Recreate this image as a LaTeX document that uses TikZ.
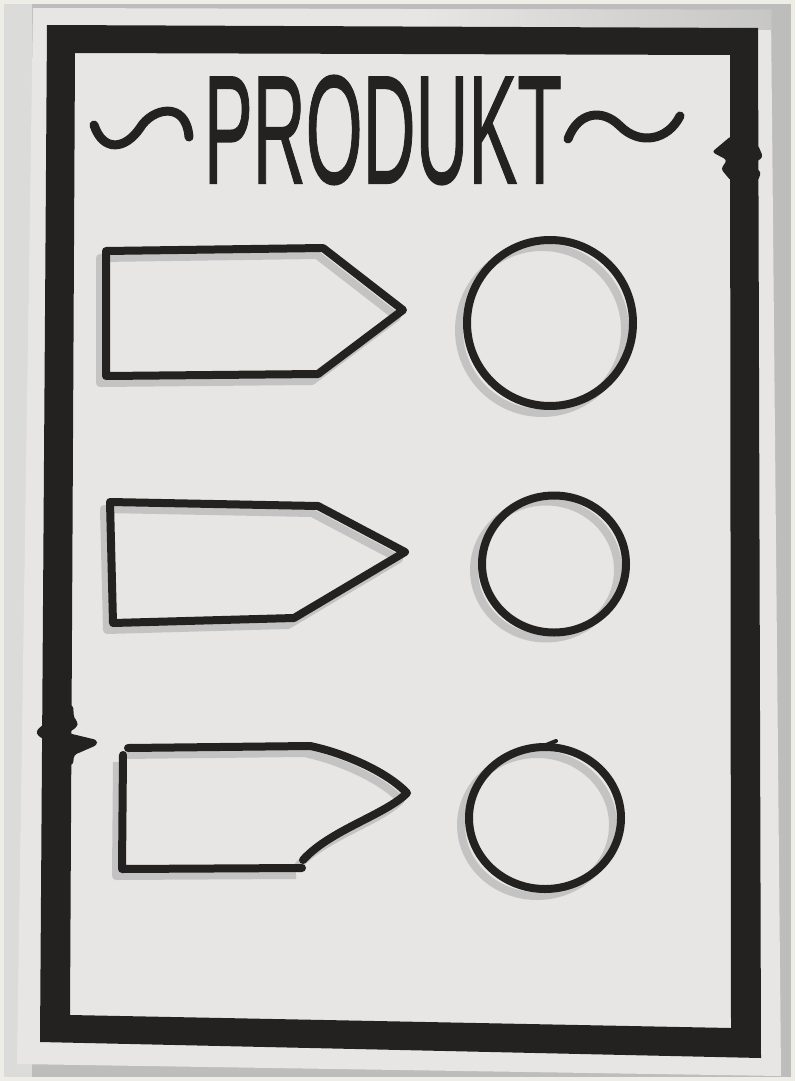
\documentclass[tikz,border=0pt]{standalone}
\usepackage{fontspec}
\setmainfont{Liberation Sans}
\newfontfamily\titlefont[FakeBold=1]{Liberation Sans}
\usepackage{graphicx}
\usetikzlibrary{positioning}

\definecolor{rim}{HTML}{EEEEE6}
\definecolor{wall}{HTML}{BDBDBB}
\definecolor{paper}{HTML}{E8E5E5}
\definecolor{marker}{HTML}{242121}
\definecolor{shade}{HTML}{B9B8B8}

\newcommand{\tagone}{(106,251) -- (323,248) -- (403,310) -- (318,374) -- (106,376) -- cycle}
\newcommand{\tagtwo}{(110,502) -- (318,506) -- (405,552) -- (294,618) -- (113,623) -- cycle}
\newcommand{\tagthree}{(128,748) -- (310,746) .. controls (340,752) and (385,770) .. (407,793) .. controls (385,815) and (330,830) .. (303,860) (123,755) -- (122,869) -- (302,868)}

\begin{document}
\begin{tikzpicture}[x=1pt, y=-1pt,
    pen/.style={draw=marker, line width=8pt, line join=round, line cap=round},
    shadowpen/.style={draw=shade, line width=8pt, line join=round, opacity=0.75},
    swash/.style={draw=marker, line width=9pt, line cap=round},
    zig/.style={fill=marker, rounded corners=3pt},
    title/.style={text=marker, inner sep=0pt, font=\titlefont},
]
\useasboundingbox (0,0) rectangle (795,1081);
\fill[rim] (0,0) rectangle (795,1081);
\fill[wall] (4,4) rectangle (791,1077);
\fill[wall!55!white] (4,4) rectangle (32,1077);

% paper and frame
\fill[paper] (33,8) -- (771,10) -- (781,1076) -- (17,1064) -- cycle;
\shade[left color=paper, right color=wall!85!white] (420,9) -- (771,10) -- (771,30) -- (420,30) -- cycle;
\fill[marker, even odd rule] (47,25) -- (758,28) -- (761,1058) -- (40,1042) -- cycle
    (75,53) -- (730,55) -- (731,1028) -- (70,1015) -- cycle;
\path[zig] (731,136) -- (712,152) -- (727,160) -- (721,169) -- (731,181) -- (758,181)
    -- (761,172) -- (752,165) -- (763,157) -- (758,145) -- cycle;
\path[zig] (47,705) -- (73,705) -- (74,718) -- (78,722) -- (77,727) -- (68,733) -- (97,740)
    -- (97,745) -- (74,755) -- (73,765) -- (45,765) -- (46,756) -- (53,744) -- (38,736)
    -- (36,731) -- (46,722) -- cycle;

% title
\node[title] (title) at (383,130) {\resizebox{358pt}{108pt}{PRODUKT}};
\draw[swash] (94,125) .. controls (103,152) and (125,150) .. (140,128) .. controls (152,108) and (186,100) .. (189,137);
\draw[swash] (568,139) .. controls (578,112) and (602,108) .. (620,126) .. controls (640,146) and (668,140) .. (680,116);

% tags
\draw[shadowpen, shift={(-6,7)}] \tagone;
\draw[pen] \tagone;
\draw[shadowpen, shift={(-6,7)}] \tagtwo;
\draw[pen] \tagtwo;
\draw[shadowpen, shift={(-6,7)}] \tagthree;
\draw[pen] \tagthree;

% circles
\draw[shadowpen] (542,330) circle [radius=83];
\draw[pen] (550,323) circle [radius=83];
\draw[shadowpen] (546,570) ellipse [x radius=72, y radius=68.5];
\draw[pen] (554,564) ellipse [x radius=72, y radius=68.5];
\draw[shadowpen] (537,825) ellipse [x radius=76, y radius=71];
\draw[pen] (545,818) ellipse [x radius=76, y radius=71];
\draw[pen, line width=4pt] (546,745) -- (556,741);

\end{tikzpicture}
\end{document}
